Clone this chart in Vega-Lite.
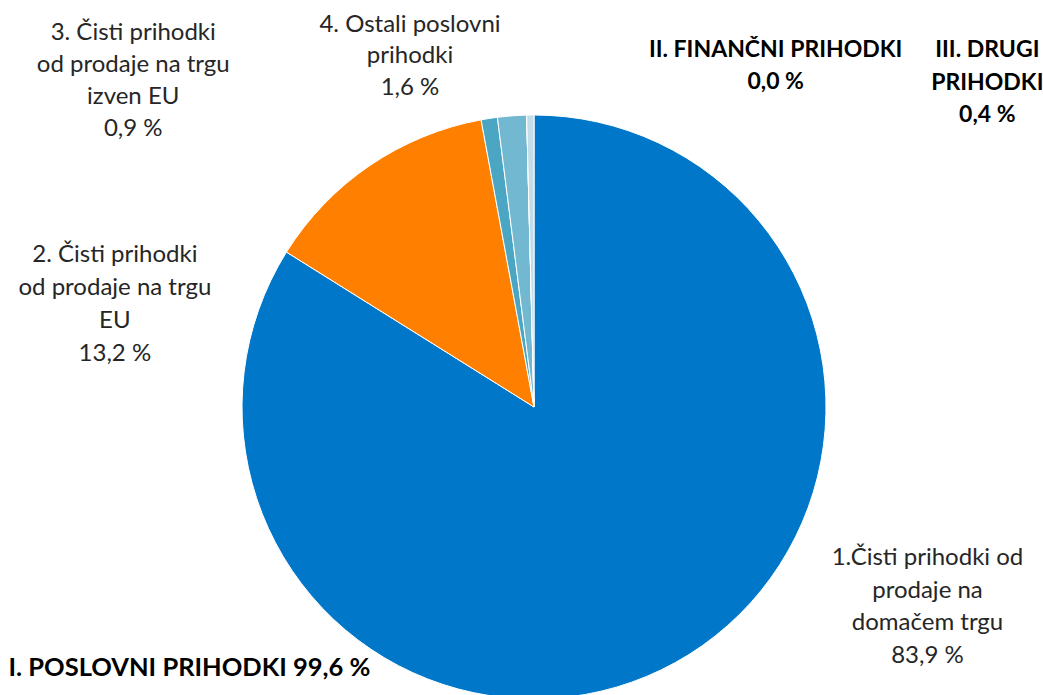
{
  "$schema": "https://vega.github.io/schema/vega-lite/v6.json",
  "autosize": {"type": "none"},
  "width": 584,
  "height": 584,
  "padding": {"left": 242, "top": 115, "right": 217, "bottom": 0},
  "background": "white",
  "config": {"view": {"stroke": null}},
  "data": {
    "values": [
      {"key": "k1", "order": 1, "value": 83.9, "label": "1.Čisti prihodki od\nprodaje na\ndomačem trgu\n83,9 %", "group": "I. POSLOVNI PRIHODKI 99,6 %"},
      {"key": "k2", "order": 2, "value": 13.2, "label": "2. Čisti prihodki\nod prodaje na trgu\nEU\n13,2 %", "group": ""},
      {"key": "k3", "order": 3, "value": 0.9, "label": "3. Čisti prihodki\nod prodaje na trgu\nizven EU\n0,9 %", "group": ""},
      {"key": "k4", "order": 4, "value": 1.6, "label": "4. Ostali poslovni\nprihodki\n1,6 %", "group": ""},
      {"key": "k5", "order": 5, "value": 0.0, "label": "II. FINANČNI PRIHODKI\n0,0 %", "group": ""},
      {"key": "k6", "order": 6, "value": 0.4, "label": "III. DRUGI\nPRIHODKI\n0,4 %", "group": ""}
    ]
  },
  "layer": [
    {
      "mark": {"type": "arc", "stroke": "white", "strokeWidth": 1},
      "encoding": {
        "theta": {"field": "value", "type": "quantitative", "stack": true},
        "color": {
          "field": "key",
          "type": "nominal",
          "scale": {"domain": ["k1", "k2", "k3", "k4", "k5", "k6"], "range": ["#0077C8", "#FF8000", "#4AA6C2", "#72B8D0", "#A6CEE0", "#C2DDE7"]},
          "legend": null
        },
        "order": {"field": "order", "type": "quantitative"}
      }
    },
    {
      "mark": {"type": "text", "radius": 292, "dx": 252, "dy": -104, "font": "Lato", "fontSize": 24, "lineHeight": 32.5, "lineBreak": "\n", "align": "center", "baseline": "middle", "color": "#262626"},
      "encoding": {
        "theta": {"field": "value", "type": "quantitative", "stack": true},
        "detail": {"field": "key", "type": "nominal"},
        "order": {"field": "order", "type": "quantitative"},
        "text": {"condition": {"test": "datum.key === 'k1'", "field": "label", "type": "nominal"}, "value": ""}
      }
    },
    {
      "mark": {"type": "text", "radius": 292, "dx": -255, "dy": 90, "font": "Lato", "fontSize": 24, "lineHeight": 33, "lineBreak": "\n", "align": "center", "baseline": "middle", "color": "#262626"},
      "encoding": {
        "theta": {"field": "value", "type": "quantitative", "stack": true},
        "detail": {"field": "key", "type": "nominal"},
        "order": {"field": "order", "type": "quantitative"},
        "text": {"condition": {"test": "datum.key === 'k2'", "field": "label", "type": "nominal"}, "value": ""}
      }
    },
    {
      "mark": {"type": "text", "radius": 292, "dx": -356, "dy": -85, "font": "Lato", "fontSize": 24, "lineHeight": 32, "lineBreak": "\n", "align": "center", "baseline": "middle", "color": "#262626"},
      "encoding": {
        "theta": {"field": "value", "type": "quantitative", "stack": true},
        "detail": {"field": "key", "type": "nominal"},
        "order": {"field": "order", "type": "quantitative"},
        "text": {"condition": {"test": "datum.key === 'k3'", "field": "label", "type": "nominal"}, "value": ""}
      }
    },
    {
      "mark": {"type": "text", "radius": 292, "dx": -102, "dy": -91, "font": "Lato", "fontSize": 24, "lineHeight": 31.5, "lineBreak": "\n", "align": "center", "baseline": "middle", "color": "#262626"},
      "encoding": {
        "theta": {"field": "value", "type": "quantitative", "stack": true},
        "detail": {"field": "key", "type": "nominal"},
        "order": {"field": "order", "type": "quantitative"},
        "text": {"condition": {"test": "datum.key === 'k4'", "field": "label", "type": "nominal"}, "value": ""}
      }
    },
    {
      "mark": {"type": "text", "radius": 292, "dx": 249, "dy": -65, "font": "Lato", "fontSize": 23, "fontWeight": "bold", "lineHeight": 32, "lineBreak": "\n", "align": "center", "baseline": "middle", "color": "#000000"},
      "encoding": {
        "theta": {"field": "value", "type": "quantitative", "stack": true},
        "detail": {"field": "key", "type": "nominal"},
        "order": {"field": "order", "type": "quantitative"},
        "text": {"condition": {"test": "datum.key === 'k5'", "field": "label", "type": "nominal"}, "value": ""}
      }
    },
    {
      "mark": {"type": "text", "radius": 292, "dx": 457, "dy": -65, "font": "Lato", "fontSize": 23, "fontWeight": "bold", "lineHeight": 32.5, "lineBreak": "\n", "align": "center", "baseline": "middle", "color": "#000000"},
      "encoding": {
        "theta": {"field": "value", "type": "quantitative", "stack": true},
        "detail": {"field": "key", "type": "nominal"},
        "order": {"field": "order", "type": "quantitative"},
        "text": {"condition": {"test": "datum.key === 'k6'", "field": "label", "type": "nominal"}, "value": ""}
      }
    },
    {
      "mark": {"type": "text", "radius": 292, "dx": -667, "dy": 6, "font": "Lato", "fontSize": 25.5, "fontWeight": "bold", "align": "left", "baseline": "middle", "color": "#000000"},
      "encoding": {
        "theta": {"field": "value", "type": "quantitative", "stack": true},
        "detail": {"field": "key", "type": "nominal"},
        "order": {"field": "order", "type": "quantitative"},
        "text": {"field": "group", "type": "nominal"}
      }
    }
  ]
}
